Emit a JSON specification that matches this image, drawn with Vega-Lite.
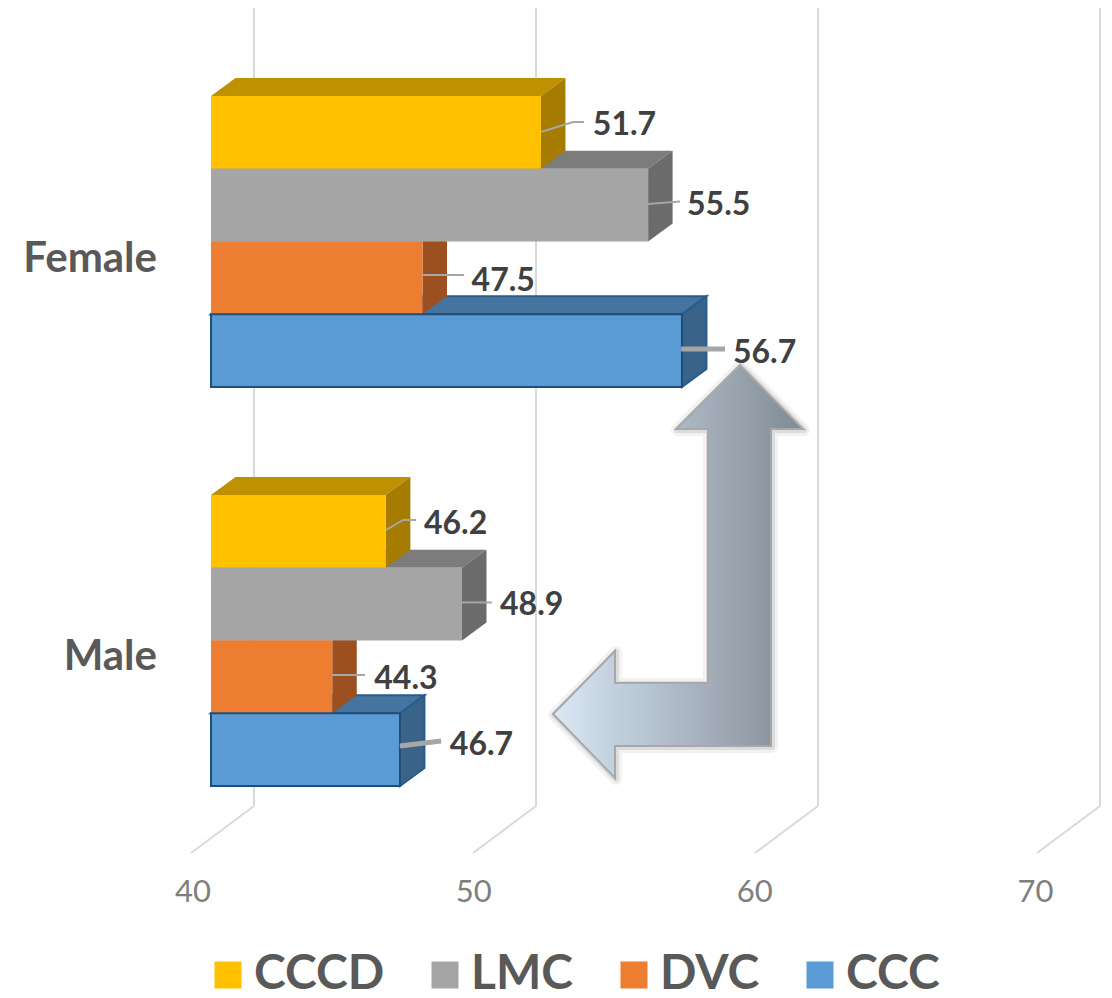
{
"$schema":"https://vega.github.io/schema/vega-lite/v6.json",
"width":1112,"height":998,"padding":0,"autosize":{"type":"none"},
"background":"white",
"view":{"stroke":null},
"datasets":{
"bars":[
{"gender":"Female","series":"CCCD","value":51.7},{"gender":"Female","series":"LMC","value":55.5},{"gender":"Female","series":"DVC","value":47.5},{"gender":"Female","series":"CCC","value":56.7},
{"gender":"Male","series":"CCCD","value":46.2},{"gender":"Male","series":"LMC","value":48.9},{"gender":"Male","series":"DVC","value":44.3},{"gender":"Male","series":"CCC","value":46.7}],
"ticks":[{"tick":40},{"tick":50},{"tick":60},{"tick":70}],
"cats":[{"gender":"Female","at":38.085,"slot":2.24},{"gender":"Male","at":38.085,"slot":7.71}],
"labels":[
{"value":51.7,"at":53.54,"slot":0.371},{"value":55.5,"at":56.88,"slot":1.471},{"value":47.5,"at":49.24,"slot":2.515},{"value":56.7,"at":58.51,"slot":3.505},
{"value":46.2,"at":47.55,"slot":5.856},{"value":48.9,"at":50.25,"slot":6.969},{"value":44.3,"at":45.79,"slot":7.986},{"value":46.7,"at":48.47,"slot":8.893}],
"leaders":[
{"bar":"F-CCCD","series":"CCCD","step":0,"v":51.7,"s":0.495},{"bar":"F-CCCD","series":"CCCD","step":1,"v":52.84,"s":0.357},{"bar":"F-CCCD","series":"CCCD","step":2,"v":53.23,"s":0.357},
{"bar":"F-LMC","series":"LMC","step":0,"v":55.5,"s":1.485},{"bar":"F-LMC","series":"LMC","step":1,"v":56.63,"s":1.45},
{"bar":"F-DVC","series":"DVC","step":0,"v":47.52,"s":2.46},{"bar":"F-DVC","series":"DVC","step":1,"v":48.97,"s":2.46},
{"bar":"F-CCC","series":"CCC","step":0,"v":56.67,"s":3.478},{"bar":"F-CCC","series":"CCC","step":1,"v":58.23,"s":3.478},
{"bar":"M-CCCD","series":"CCCD","step":0,"v":46.21,"s":5.966},{"bar":"M-CCCD","series":"CCCD","step":1,"v":46.81,"s":5.828},{"bar":"M-CCCD","series":"CCCD","step":2,"v":47.27,"s":5.828},
{"bar":"M-LMC","series":"LMC","step":0,"v":48.9,"s":6.962},{"bar":"M-LMC","series":"LMC","step":1,"v":49.96,"s":6.962},
{"bar":"M-DVC","series":"DVC","step":0,"v":44.29,"s":7.959},{"bar":"M-DVC","series":"DVC","step":1,"v":45.46,"s":7.959},
{"bar":"M-CCC","series":"CCC","step":0,"v":46.7,"s":8.935},{"bar":"M-CCC","series":"CCC","step":1,"v":48.16,"s":8.866}],
"arrow":[
{"step":0,"v":58.759,"s":3.698},{"step":1,"v":60.993,"s":4.577},{"step":2,"v":59.858,"s":4.577},{"step":3,"v":59.858,"s":8.935},{"step":4,"v":54.326,"s":8.935},{"step":5,"v":54.326,"s":9.375},{"step":6,"v":52.128,"s":8.495},{"step":7,"v":54.326,"s":7.629},{"step":8,"v":54.326,"s":8.069},{"step":9,"v":57.624,"s":8.069},{"step":10,"v":57.624,"s":4.577},{"step":11,"v":56.489,"s":4.577}]
},
"layer":[
{"data":{"name":"ticks"},
 "transform":[{"calculate":"datum.tick+1.525","as":"back"},{"calculate":"-1.2096","as":"top"},{"calculate":"9.76","as":"floor"}],
 "mark":{"type":"rule","color":"#d9d9d9","strokeWidth":2},
 "encoding":{
  "x":{"field":"back","type":"quantitative","scale":{"domain":[32.518,71.95],"nice":false,"zero":false},"axis":null},
  "y":{"field":"top","type":"quantitative","scale":{"domain":[-1.3196,12.399],"nice":false,"zero":false,"reverse":true},"axis":null},
  "y2":{"field":"floor"}}},
{"data":{"name":"ticks"},
 "transform":[{"calculate":"datum.tick+1.525","as":"back"},{"calculate":"datum.tick-0.71","as":"front"},{"calculate":"9.76","as":"floor"},{"calculate":"10.405","as":"edge"}],
 "mark":{"type":"rule","color":"#d9d9d9","strokeWidth":2},
 "encoding":{
  "x":{"field":"back","type":"quantitative","axis":null},"x2":{"field":"front"},
  "y":{"field":"floor","type":"quantitative","axis":null},"y2":{"field":"edge"}}},
{"data":{"name":"ticks"},
 "transform":[{"calculate":"39.36+(datum.tick-40)*0.996","as":"at"},{"calculate":"10.955","as":"row"}],
 "mark":{"type":"text","align":"center","baseline":"middle","font":"Lato","fontSize":31,"color":"#7f7f7f"},
 "encoding":{
  "x":{"field":"at","type":"quantitative","axis":null},
  "y":{"field":"row","type":"quantitative","axis":null},
  "text":{"field":"tick","type":"quantitative"}}},
{"data":{"name":"bars"},
 "transform":[{"calculate":"(datum.gender==='Male'?5.485:0)+indexof(['CCCD','LMC','DVC','CCC'],datum.series)","as":"slot"},{"calculate":"[0,1]","as":"d"},{"flatten":["d"]},
  {"calculate":"40+datum.d*0.869","as":"x0"},{"calculate":"datum.value+datum.d*0.869","as":"x1"},{"calculate":"datum.slot-datum.d*0.2474","as":"yy"}],
 "mark":{"type":"area","orient":"horizontal","strokeWidth":2},
 "encoding":{
  "x":{"field":"x0","type":"quantitative","axis":null},"x2":{"field":"x1"},
  "y":{"field":"yy","type":"quantitative","axis":null},
  "detail":[{"field":"gender"}],
  "color":{"field":"series","type":"nominal","legend":null,"scale":{"domain":["CCCD","LMC","DVC","CCC"],"range":["#bf9000","#7c7c7c","#b25e25","#44749f"]}},
  "stroke":{"condition":{"test":"datum.series==='CCC'","value":"#285c8c"},"value":null}}},
{"data":{"name":"bars"},
 "transform":[{"calculate":"(datum.gender==='Male'?5.485:0)+indexof(['CCCD','LMC','DVC','CCC'],datum.series)","as":"slot"},{"calculate":"[0,1]","as":"d"},{"flatten":["d"]},
  {"calculate":"datum.value+datum.d*0.869","as":"xx"},{"calculate":"datum.slot-datum.d*0.2474","as":"y0"},{"calculate":"datum.slot+1-datum.d*0.2474","as":"y1"}],
 "mark":{"type":"area","orient":"vertical","strokeWidth":2},
 "encoding":{
  "x":{"field":"xx","type":"quantitative","axis":null},
  "y":{"field":"y0","type":"quantitative","axis":null},"y2":{"field":"y1"},
  "detail":[{"field":"gender"}],
  "color":{"field":"series","type":"nominal","legend":null,"scale":{"domain":["CCCD","LMC","DVC","CCC"],"range":["#a67c00","#6b6b6b","#9c5020","#3a6389"]}},
  "stroke":{"condition":{"test":"datum.series==='CCC'","value":"#285c8c"},"value":null}}},
{"data":{"name":"bars"},
 "transform":[{"calculate":"(datum.gender==='Male'?5.485:0)+indexof(['CCCD','LMC','DVC','CCC'],datum.series)","as":"slot"},{"calculate":"datum.slot+1","as":"slotEnd"},{"calculate":"40","as":"base"}],
 "mark":{"type":"rect","strokeWidth":2},
 "encoding":{
  "x":{"field":"base","type":"quantitative","axis":null},"x2":{"field":"value"},
  "y":{"field":"slot","type":"quantitative","axis":null},"y2":{"field":"slotEnd"},
  "color":{"field":"series","type":"nominal","scale":{"domain":["CCCD","LMC","DVC","CCC"],"range":["#ffc000","#a5a5a5","#ed7d31","#5b9bd5"]},
   "legend":{"orient":"none","legendX":204,"legendY":951,"direction":"horizontal","columns":4,"title":null,"symbolType":"square","symbolSize":729,"symbolStrokeWidth":2,"labelFontSize":48,"labelFontWeight":"bold","labelFont":"Lato","labelColor":"#595959","labelOffset":2,"columnPadding":36,"padding":0,"labelLimit":300,
    "encode":{"symbols":{"update":{"stroke":{"signal":"datum.value==='CCC'?'#1f4e79':'transparent'"},"opacity":{"value":1},"fillOpacity":{"value":1}}}}}},
  "stroke":{"condition":{"test":"datum.series==='CCC'","value":"#1f4e79"},"value":null}}},
{"data":{"name":"leaders"},
 "mark":{"type":"line","color":"#a6a6a6"},
 "encoding":{
  "x":{"field":"v","type":"quantitative","axis":null},"y":{"field":"s","type":"quantitative","axis":null},
  "detail":{"field":"bar"},"order":{"field":"step"},
  "strokeWidth":{"condition":{"test":"datum.series==='CCC'","value":5},"value":2}}},
{"data":{"name":"arrow"},
 "mark":{"type":"line","filled":true,"interpolate":"linear-closed","fill":"#000000","fillOpacity":0.05,"stroke":"#000000","strokeOpacity":0.05,"strokeWidth":12,"strokeJoin":"round","xOffset":1,"yOffset":1},
 "encoding":{"x":{"field":"v","type":"quantitative","axis":null},"y":{"field":"s","type":"quantitative","axis":null},"order":{"field":"step"}}},
{"data":{"name":"arrow"},
 "mark":{"type":"line","filled":true,"interpolate":"linear-closed","fill":"#000000","fillOpacity":0.08,"stroke":"#000000","strokeOpacity":0.09,"strokeWidth":6,"strokeJoin":"round","xOffset":1,"yOffset":1},
 "encoding":{"x":{"field":"v","type":"quantitative","axis":null},"y":{"field":"s","type":"quantitative","axis":null},"order":{"field":"step"}}},
{"data":{"name":"arrow"},
 "mark":{"type":"line","filled":true,"interpolate":"linear-closed","strokeWidth":2,"stroke":"#a8a8a8","strokeJoin":"miter",
  "fill":{"gradient":"linear","x1":0,"y1":0,"x2":1,"y2":0,"stops":[{"offset":0,"color":"#dce9f5"},{"offset":0.25,"color":"#c2d0de"},{"offset":0.62,"color":"#a3aeba"},{"offset":0.87,"color":"#8b96a0"},{"offset":1,"color":"#7d8a96"}]}},
 "encoding":{"x":{"field":"v","type":"quantitative","axis":null},"y":{"field":"s","type":"quantitative","axis":null},"order":{"field":"step"}}},
{"data":{"name":"labels"},
 "mark":{"type":"text","align":"left","baseline":"middle","font":"Lato","fontWeight":"bold","fontSize":32,"color":"#404040","dy":2},
 "encoding":{"x":{"field":"at","type":"quantitative","axis":null},"y":{"field":"slot","type":"quantitative","axis":null},"text":{"field":"value","type":"quantitative","format":".1f"}}},
{"data":{"name":"cats"},
 "mark":{"type":"text","align":"right","baseline":"middle","font":"Lato","fontWeight":"bold","fontSize":42,"color":"#595959"},
 "encoding":{"x":{"field":"at","type":"quantitative","axis":null},"y":{"field":"slot","type":"quantitative","axis":null},"text":{"field":"gender","type":"nominal"}}}
],
"resolve":{"scale":{"color":"independent"}}
}
